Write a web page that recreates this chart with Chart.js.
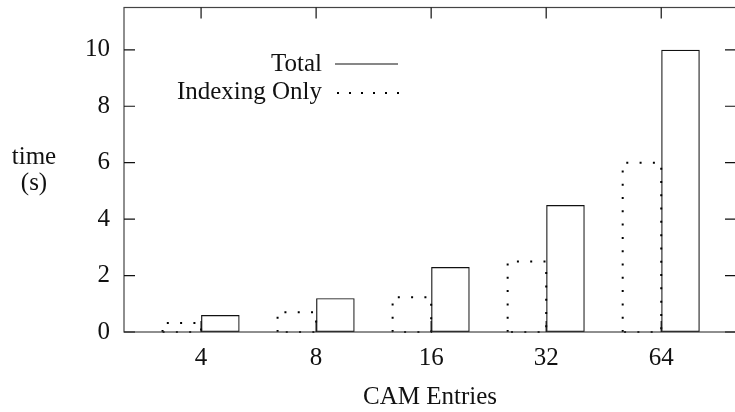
<!DOCTYPE html>
<html><head><meta charset="utf-8">
<script src="https://cdn.jsdelivr.net/npm/chart.js@4/dist/chart.umd.min.js"></script>
<style>
html,body{margin:0;padding:0;overflow:hidden;background:#fff;width:735px;height:412px}
#wrap{position:relative;width:737px;height:412px}
</style>
</head><body><div id="wrap"><canvas id="c"></canvas></div>
<script>
const categories = ['4', '8', '16', '32', '64'];
const totalTimes = [0.6, 1.2, 2.3, 4.5, 10.0];
const indexingTimes = [0.32, 0.7, 1.23, 2.5, 6.0];
const yTicks = [0, 2, 4, 6, 8, 10];
const seriesNames = ['Total', 'Indexing Only'];
const xTitle = 'CAM Entries';
const yTitle = ['time', '(s)'];

const FONT = 'Liberation Serif';
const FS = 25;
const INK = '#111';
const FRAME = '#444';
const DOTS = [2, 11.3];

const toXY = arr => arr.map((v, i) => ({x: i, y: v}));

const dottedBars = {
  id: 'dottedBars',
  afterDatasetsDraw(chart) {
    const ctx = chart.ctx;
    chart.data.datasets.forEach((ds, di) => {
      if (!ds.dotted) return;
      const meta = chart.getDatasetMeta(di);
      ctx.save();
      ctx.strokeStyle = '#000';
      ctx.lineWidth = 2;
      ctx.setLineDash(DOTS);
      meta.data.forEach(el => {
        const p = el.getProps(['x', 'y', 'base', 'width'], true);
        const l = p.x - p.width / 2, r = p.x + p.width / 2;
        ctx.beginPath();
        ctx.moveTo(l, p.base);
        ctx.lineTo(l, p.y);
        ctx.lineTo(r, p.y);
        ctx.lineTo(r, p.base);
        ctx.lineTo(l, p.base);
        ctx.stroke();
      });
      ctx.restore();
    });
  }
};

const frame = {
  id: 'frame',
  afterDatasetsDraw(chart) {
    const {ctx, chartArea: a, scales} = chart;
    const T = 11;
    ctx.save();
    ctx.strokeStyle = FRAME;
    ctx.lineWidth = 1.2;
    ctx.strokeRect(a.left, a.top, a.right - a.left, a.bottom - a.top);
    ctx.strokeStyle = INK;
    ctx.beginPath();
    scales.y.ticks.forEach(t => {
      const y = scales.y.getPixelForValue(t.value);
      ctx.moveTo(a.left, y); ctx.lineTo(a.left + T, y);
      ctx.moveTo(a.right, y); ctx.lineTo(a.right - T, y);
    });
    scales.x.ticks.forEach(t => {
      const x = scales.x.getPixelForValue(t.value);
      ctx.moveTo(x, a.bottom); ctx.lineTo(x, a.bottom - T);
      ctx.moveTo(x, a.top); ctx.lineTo(x, a.top + T);
    });
    ctx.stroke();
    ctx.restore();
  }
};

const keyAndTitle = {
  id: 'keyAndTitle',
  afterDraw(chart) {
    const ctx = chart.ctx;
    ctx.save();
    ctx.fillStyle = INK;
    ctx.font = FS + 'px "' + FONT + '"';
    ctx.textAlign = 'center';
    ctx.textBaseline = 'middle';
    ctx.fillText(yTitle[0], 34, 157);
    ctx.fillText(yTitle[1], 34, 183);
    const rows = [
      {name: seriesNames[0], y: 64, dotted: false},
      {name: seriesNames[1], y: 92, dotted: true}
    ];
    ctx.textAlign = 'right';
    rows.forEach(r => {
      ctx.fillText(r.name, 322, r.y);
      ctx.beginPath();
      if (r.dotted) { ctx.lineWidth = 2; ctx.setLineDash([2, 10]); ctx.strokeStyle = '#000'; ctx.moveTo(337, r.y + 1); ctx.lineTo(400, r.y + 1); }
      else { ctx.lineWidth = 1.2; ctx.setLineDash([]); ctx.strokeStyle = INK; ctx.moveTo(335, r.y); ctx.lineTo(398, r.y); }
      ctx.stroke();
    });
    ctx.restore();
  }
};

new Chart(document.getElementById('c'), {
  type: 'bar',
  data: {
    datasets: [
      {label: seriesNames[1], data: toXY(indexingTimes), backgroundColor: 'rgba(0,0,0,0)', borderWidth: 0, dotted: true},
      {label: seriesNames[0], data: toXY(totalTimes), backgroundColor: 'rgba(0,0,0,0)', borderColor: INK, borderWidth: 1.2, borderSkipped: false}
    ]
  },
  options: {
    responsive: true,
    maintainAspectRatio: false,
    animation: false,
    devicePixelRatio: 1,
    layout: {padding: {top: 7.5, right: 1, left: 0, bottom: 0}},
    datasets: {bar: {categoryPercentage: 0.67, barPercentage: 1, grouped: true}},
    plugins: {legend: {display: false}, tooltip: {enabled: false}, title: {display: false}},
    scales: {
      x: {
        type: 'linear', offset: false, min: -0.67, max: 4.65,
        grid: {display: false, drawTicks: false}, border: {display: false},
        afterBuildTicks: s => { s.ticks = categories.map((c, i) => ({value: i})); },
        afterFit: s => { s.height = 80; s.paddingLeft = 0; s.paddingRight = 0; s.paddingTop = 0; s.paddingBottom = 0; },
        ticks: {autoSkip: false, maxRotation: 0, padding: 11, color: INK,
          font: {family: FONT, size: FS},
          callback: v => categories[v]},
        title: {display: true, text: xTitle, color: INK, padding: {top: 0, bottom: 0},
          font: {family: FONT, size: FS}}
      },
      y: {
        type: 'linear', min: 0, max: 11.5,
        grid: {display: false, drawTicks: false}, border: {display: false},
        afterBuildTicks: s => { s.ticks = yTicks.map(v => ({value: v})); },
        afterFit: s => { s.width = 124; s.paddingLeft = 0; s.paddingRight = 0; s.paddingTop = 0; s.paddingBottom = 0; },
        ticks: {padding: 14, color: INK, font: {family: FONT, size: FS}}
      }
    }
  },
  plugins: [dottedBars, frame, keyAndTitle]
});
</script>
</body></html>
